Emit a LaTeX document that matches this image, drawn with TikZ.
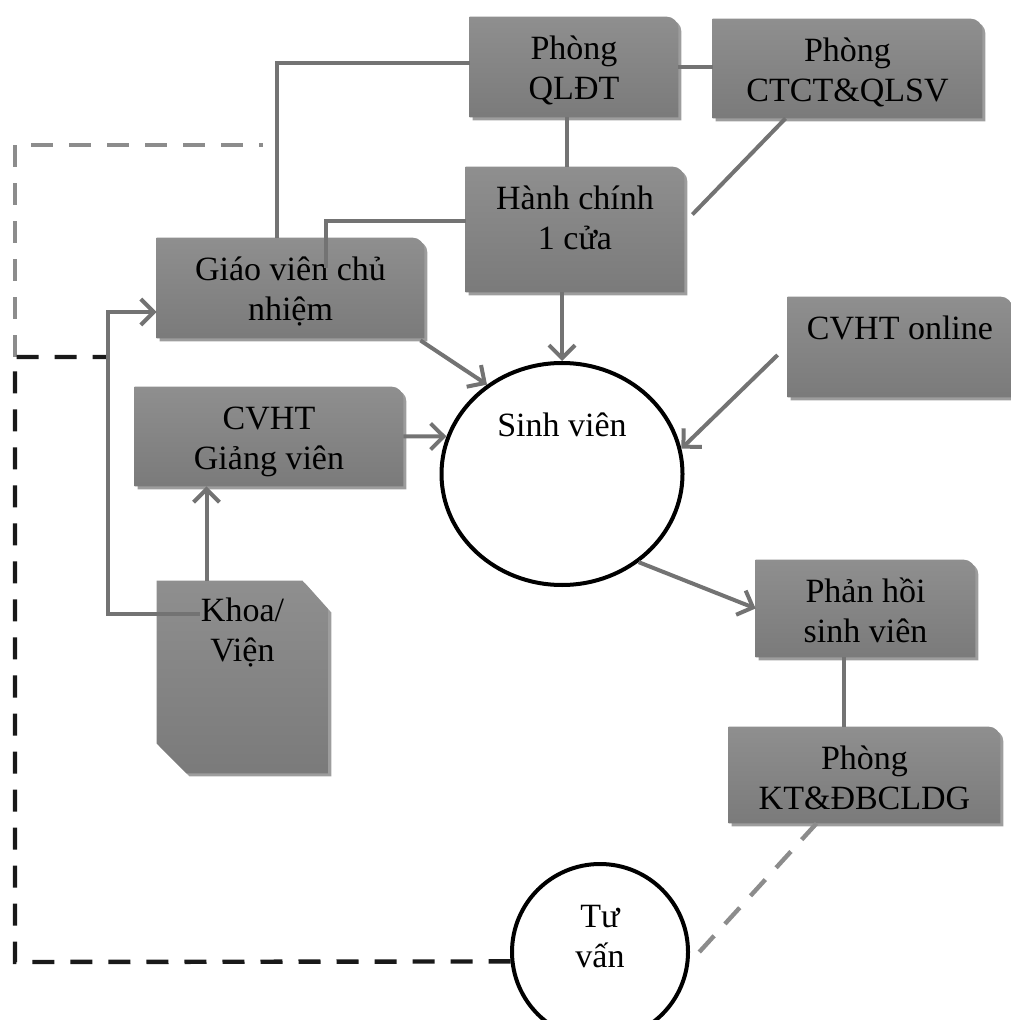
\documentclass[tikz,border=0pt]{standalone}
\usepackage{fontspec}
\setmainfont{Liberation Serif}
\usetikzlibrary{arrows.meta, shapes.geometric, backgrounds}

\begin{document}
\begin{tikzpicture}[x=0.5pt, y=-0.5pt]
\tikzstyle{every node}=[font=\fontsize{17pt}{20pt}\selectfont]
\tikzstyle{box}=[rectangle, inner sep=0pt]
\tikzstyle{boxtext}=[align=center, anchor=base, inner sep=0pt, yshift=-41.5pt]
\tikzstyle{oneline}=[boxtext, yshift=20pt]
\tikzstyle{bubble}=[ellipse, draw=black, line width=2pt, inner sep=0pt]
\tikzstyle{conn}=[draw=black!55, line width=2pt]
\tikzstyle{arr}=[conn, -{Straight Barb[length=6.5pt, width=13pt]}]
\tikzstyle{darkdash}=[draw=black!90, line width=2.2pt, dash pattern=on 11pt off 8pt]
\tikzstyle{lightdash}=[darkdash, draw=black!45]
\tikzstyle{boxfill}=[top color=black!44, bottom color=black!52]
\tikzstyle{boxshadow}=[fill=black!70, opacity=.55, transform canvas={xshift=1.5pt, yshift=-1.5pt}]

\useasboundingbox (0,0) rectangle (1010,1020);

\node[box, minimum width=104pt, minimum height=50pt, label={[boxtext]north:{Phòng\\QLĐT}}] (qldt) at (574,67) {};
\node[box, minimum width=134.5pt, minimum height=49.5pt, label={[boxtext]north:{Phòng\\CTCT\&QLSV}}] (ctct) at (847.5,68.5) {};
\node[box, minimum width=109pt, minimum height=62.5pt, label={[boxtext]north:{Hành chính\\1 cửa}}] (hcmc) at (575,229.5) {};
\node[box, minimum width=133.5pt, minimum height=50pt, label={[boxtext]north:{Giáo viên chủ\\nhiệm}}] (gvcn) at (290.5,288) {};
\node[box, minimum width=134pt, minimum height=49.5pt, label={[boxtext]north:{CVHT\\Giảng viên}}] (cvhtgv) at (269,436.5) {};
\node[box, minimum width=112pt, minimum height=50pt, label={[oneline]north:{CVHT online}}] (online) at (900,347) {};
\node[box, minimum width=85.5pt, minimum height=96pt, label={[boxtext, yshift=1pt]north:{Khoa/\\Viện}}] (khoa) at (242.5,677) {};
\node[box, minimum width=109.5pt, minimum height=48.5pt, label={[boxtext]north:{Phản hồi\\sinh viên}}] (phsv) at (865.5,608.5) {};
\node[box, minimum width=135.5pt, minimum height=48pt, label={[boxtext]north:{Phòng\\KT\&ĐBCLDG}}] (ktdb) at (864.5,775) {};
\node[bubble, minimum width=120.5pt, minimum height=111pt, label={[oneline, yshift=-16.5pt]north:{Sinh viên}}] (sv) at (562,474) {};
\node[bubble, minimum width=88pt, minimum height=88pt, label={[boxtext, yshift=-11pt]north:{Tư\\vấn}}] (tuvan) at (600,952) {};

% box bodies behind the text
\begin{scope}[on background layer]
\foreach \b in {qldt, ctct, hcmc, gvcn, cvhtgv, online, phsv, ktdb}{
  \fill[boxshadow] (\b.south west) -- (\b.north west) [rounded corners=6pt] -- (\b.north east) [sharp corners] -- (\b.south east) -- cycle;
  \shade[boxfill] (\b.south west) -- (\b.north west) [rounded corners=6pt] -- (\b.north east) [sharp corners] -- (\b.south east) -- cycle;
}
\fill[boxshadow] (khoa.north west) -- ([xshift=-13pt]khoa.north east) -- ([yshift=-14.5pt]khoa.north east) -- (khoa.south east) -- ([xshift=15pt]khoa.south west) -- ([yshift=15pt]khoa.south west) -- cycle;
\shade[boxfill] (khoa.north west) -- ([xshift=-13pt]khoa.north east) -- ([yshift=-14.5pt]khoa.north east) -- (khoa.south east) -- ([xshift=15pt]khoa.south west) -- ([yshift=15pt]khoa.south west) -- cycle;
\end{scope}

% dashed loop on the left
\coordinate (dtr) at (263,145);
\coordinate (dtl) at (15,145);
\coordinate (dml) at (15,357);
\coordinate (dmj) at (108,357);
\coordinate (dbl) at (15,962);
\draw[lightdash] (dml) -- (dtl) -- (dtr);
\draw[darkdash] (tuvan.186) -- (dbl) -- (dml) -- (dmj);

\draw[conn] ([xshift=-7pt]gvcn.north) |- ([yshift=2pt]qldt.west);
\draw[conn] ([shift={(35,-20)}]gvcn.center) |- ([yshift=4pt]hcmc.west);
\draw[conn] (qldt.east) -- (qldt.east -| ctct.west);
\draw[conn] ([xshift=-3.5pt]qldt.south) -- ([xshift=-3.5pt]qldt.south |- hcmc.north);
\draw[conn] ([xshift=-31pt]ctct.south) -- ([shift={(8,-15)}]hcmc.east);
\draw[arr] (hcmc.south -| sv.north) -- (sv.north);
\draw[arr] ([shift={(-10,8)}]online.west) -- (sv.12);
\draw[arr] ([shift={(-4,2)}]gvcn.south east) -- (sv.130);
\draw[arr] (cvhtgv.east) -- (sv.162);
\draw[arr] ([xshift=-18pt]khoa.north) -- ([xshift=-18pt]khoa.north |- cvhtgv.south);
\draw[arr] ([shift={(43,33)}]khoa.north west) -- ++(-92,0) |- ([yshift=-12pt]gvcn.west);
\draw[arr] (sv.-49) -- (phsv.west);
\draw[conn] ([xshift=-11pt]phsv.south) -- ([xshift=-11pt]phsv.south |- ktdb.north);
\draw[lightdash] ([xshift=-24pt]ktdb.south) -- (tuvan.353);

\end{tikzpicture}
\end{document}
